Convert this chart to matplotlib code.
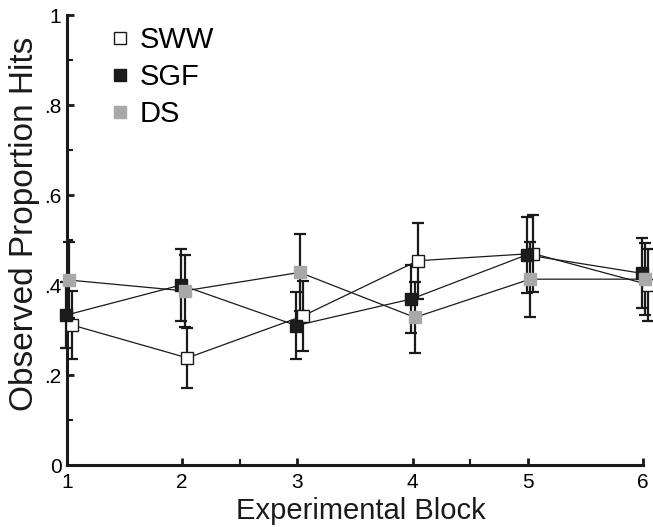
import numpy as np
import matplotlib
matplotlib.use('Agg')
import matplotlib.pyplot as plt
from matplotlib.ticker import FixedLocator

plt.rcParams['font.family'] = ['Liberation Sans', 'DejaVu Sans']

# data
blocks = np.array([1, 2, 3, 4, 5, 6])
sww = [0.311, 0.238, 0.331, 0.454, 0.470, 0.401]
sww_err = [0.075, 0.067, 0.077, 0.084, 0.085, 0.080]
sgf = [0.333, 0.400, 0.310, 0.369, 0.467, 0.426]
sgf_err = [0.074, 0.080, 0.075, 0.076, 0.084, 0.078]
ds = [0.411, 0.387, 0.428, 0.328, 0.413, 0.413]
ds_err = [0.085, 0.080, 0.085, 0.078, 0.083, 0.080]

series = [
    ('SWW', sww, sww_err, 'white', 0.045),
    ('SGF', sgf, sgf_err, '#1c1c1c', -0.01),
    ('DS', ds, ds_err, '#a8a8a8', 0.02),
]

fig = plt.figure(figsize=(6.53, 5.27), dpi=100)
ax = fig.add_axes([0.1026, 0.1176, 0.8821, 0.8539])

handles = []
for name, vals, errs, col, off in series:
    x = blocks + off
    edge = '#1a1a1a' if col != '#a8a8a8' else col
    ax.errorbar(x, vals, yerr=errs, fmt='none', ecolor='#1a1a1a',
                elinewidth=1.6, capsize=4, capthick=1.6, zorder=2, clip_on=False)
    ax.plot(x, vals, '-', color='#1a1a1a', lw=0.9, zorder=3, clip_on=False)
    ax.plot(x, vals, 's', ms=8, mfc=col, mec=edge, mew=1.0, zorder=4, clip_on=False)
    h, = ax.plot([], [], 's', ms=9, mfc=col, mec=edge, mew=1.0, label=name)
    handles.append(h)

ax.set_xlim(1, 6)
ax.set_ylim(0, 1)
ax.set_xticks([1, 2, 3, 4, 5, 6])
ax.set_xticklabels(['1', '2', '3', '4', '5', '6'])
ax.set_yticks([0, 0.2, 0.4, 0.6, 0.8, 1.0])
ax.set_yticklabels(['0', '.2', '.4', '.6', '.8', '1'])
ax.xaxis.set_minor_locator(FixedLocator([2.5, 4.5]))
ax.yaxis.set_minor_locator(FixedLocator([0.1, 0.3, 0.5, 0.7, 0.9]))
ax.tick_params(which='major', direction='in', length=5, width=2, labelsize=15, color='#1a1a1a')
ax.tick_params(which='minor', direction='in', length=4, width=1.5, color='#1a1a1a')
ax.tick_params(axis='x', pad=6)
ax.tick_params(axis='y', pad=4)

for s in ['top', 'right']:
    ax.spines[s].set_visible(False)
for s in ['left', 'bottom']:
    ax.spines[s].set_linewidth(2.2)
    ax.spines[s].set_color('#1a1a1a')

ax.set_xlabel('Experimental Block', fontsize=21, color='#1a1a1a')
ax.set_ylabel('Observed Proportion Hits', fontsize=24, color='#1a1a1a')
ax.xaxis.set_label_coords(0.51, -0.07)
ax.yaxis.set_label_coords(-0.047, 0.535)

ax.legend(handles=handles, loc='upper left', bbox_to_anchor=(0.038, 1.02),
          frameon=False, fontsize=21, handlelength=0.7, handletextpad=0.35,
          labelspacing=0.3, borderpad=0.2)

fig.savefig('out.png', dpi=100)
